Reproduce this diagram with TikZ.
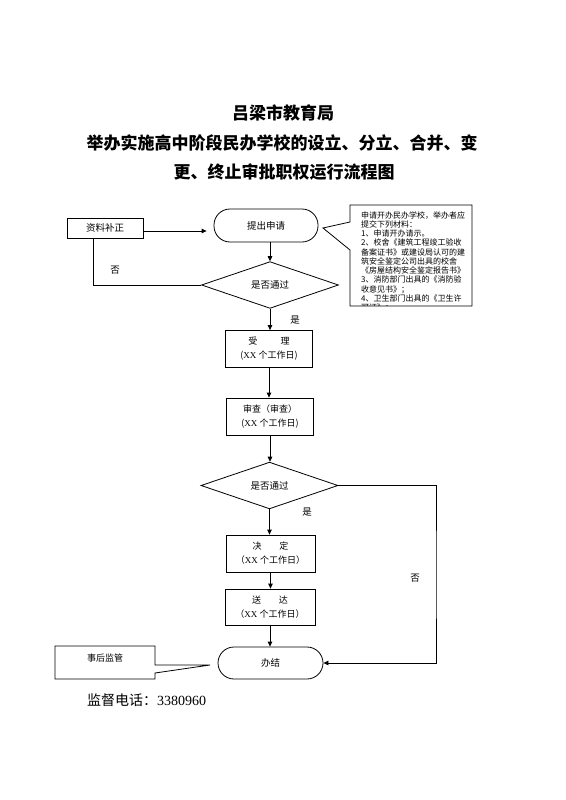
\documentclass[tikz,border=0pt]{standalone}
\usepackage{fontspec}
\setmainfont{Noto Sans CJK SC}
\newfontfamily\latinrm{Liberation Serif}
\usetikzlibrary{shapes.geometric,arrows.meta}

\tikzset{
  box/.style={draw, line width=0.8pt, minimum width=87pt, minimum height=37pt,
    inner sep=0pt, align=center, font=\fontsize{9}{14}\selectfont},
  term/.style={draw, line width=0.8pt, rounded corners=16pt, minimum width=105pt,
    minimum height=33pt, inner sep=0pt, font=\fontsize{9.5}{11}\selectfont},
  check/.style={draw, diamond, line width=0.8pt, minimum width=137pt,
    minimum height=37pt, inner sep=0pt, font=\fontsize{9.5}{11}\selectfont},
  arr/.style={-{Triangle[length=5pt,width=4.5pt]}, line width=0.8pt},
  lbl/.style={font=\fontsize{9.5}{11}\selectfont},
  note/.style={font=\fontsize{8}{9}\selectfont, inner sep=0pt, anchor=base west}
}

\begin{document}
\begin{tikzpicture}[x=1pt, y=-1pt]
\useasboundingbox[fill=white] (0,0) rectangle (565,800);

% title
\node[font=\fontsize{17}{20}\selectfont\bfseries] (t1) at (283,113) {吕梁市教育局};
\node[font=\fontsize{17}{20}\selectfont\bfseries] (t2) at (282,143) {举办实施高中阶段民办学校的设立、分立、合并、变};
\node[font=\fontsize{17}{20}\selectfont\bfseries] (t3) at (284,172) {更、终止审批职权运行流程图};

% main flow
\node[draw, line width=0.8pt, minimum width=76pt, minimum height=20pt, inner sep=0pt,
  font=\fontsize{9.5}{11}\selectfont] (bz) at (105,228) {资料补正};
\node[term, minimum width=104pt] (sq) at (266,225.5) {提出申请};
\node[check] (pd1) at (270,285) {是否通过};
\node[box] (sl) at (269,349) {受\hspace{2.6em}理\\({\latinrm XX} 个工作日)};
\node[box] (sc) at (270,416.5) {审查（审查）\\({\latinrm XX} 个工作日)};
\node[check] (pd2) at (269.5,485.5) {是否通过};
\node[box, minimum width=89pt] (jd) at (270.5,553.5) {决\hspace{2em}定\\（{\latinrm XX} 个工作日）};
\node[box, minimum width=90pt, minimum height=36pt] (sd) at (270,607) {送\hspace{2em}达\\（{\latinrm XX} 个工作日）};
\node[term, minimum height=32pt] (bj) at (270.5,663) {办结};

\draw[arr, shorten >=7pt] ([yshift=-3pt]bz.east) -- ([yshift=-3pt]bz.east -| sq.west);
\draw[arr] (sq.south -| pd1.north) -- (pd1.north);
\draw[arr] (pd1.south) -- (pd1.south |- sl.north);
\draw[arr] (sl.south) -- (sl.south |- sc.north);
\draw[arr] (sc.south) -- (sc.south |- pd2.north);
\draw[arr] (pd2.south) -- (pd2.south |- jd.north);
\draw[arr] (jd.south) -- (jd.south |- sd.north);
\draw[arr] (sd.south) -- (sd.south |- bj.north);

% no-branches
\draw[line width=0.8pt] (pd1.west) -| ([xshift=-12pt]bz.south);
\coordinate (nr) at (436,575);
\draw[arr] (pd2.east) -| (nr) |- (bj.east);

\node[lbl] (n1) at (115,270) {否};
\node[lbl] (y1) at (295,320) {是};
\node[lbl] (y2) at (307,512) {是};
\node[lbl] (n2) at (415,578) {否};

% material callout
\draw[line width=0.8pt] (350,205) -- (472,205) -- (472,306) -- (350,306) -- (350,250)
  -- (323,228) -- (350,222) -- cycle;
\begin{scope}
\clip (351,206) rectangle (471,305.5);
\foreach \t [count=\i] in {申请开办民办学校，举办者应, 提交下列材料：, 1、申请开办请示。,
  2、校舍《建筑工程竣工验收, 备案证书》或建设局认可的建, 筑安全鉴定公司出具的校舍,
  《房屋结构安全鉴定报告书》, 3、消防部门出具的《消防验, 收意见书》；,
  4、卫生部门出具的《卫生许, 可证》；}
  \node[note] (cl\i) at (361,208.75+9.25*\i) {\t};
\end{scope}

% supervision callout
\draw[line width=0.8pt] (55,646) -- (155,646) -- (155,665) -- (210,665) -- (155,673)
  -- (155,679) -- (55,679) -- cycle;
\node[lbl, font=\fontsize{9}{11}\selectfont] (jg) at (105,658) {事后监管};

\node[font=\fontsize{14}{16}\selectfont, anchor=west, inner sep=0pt] (tel) at (87,700) {监督电话：{\latinrm 3380960}};
\end{tikzpicture}
\end{document}
